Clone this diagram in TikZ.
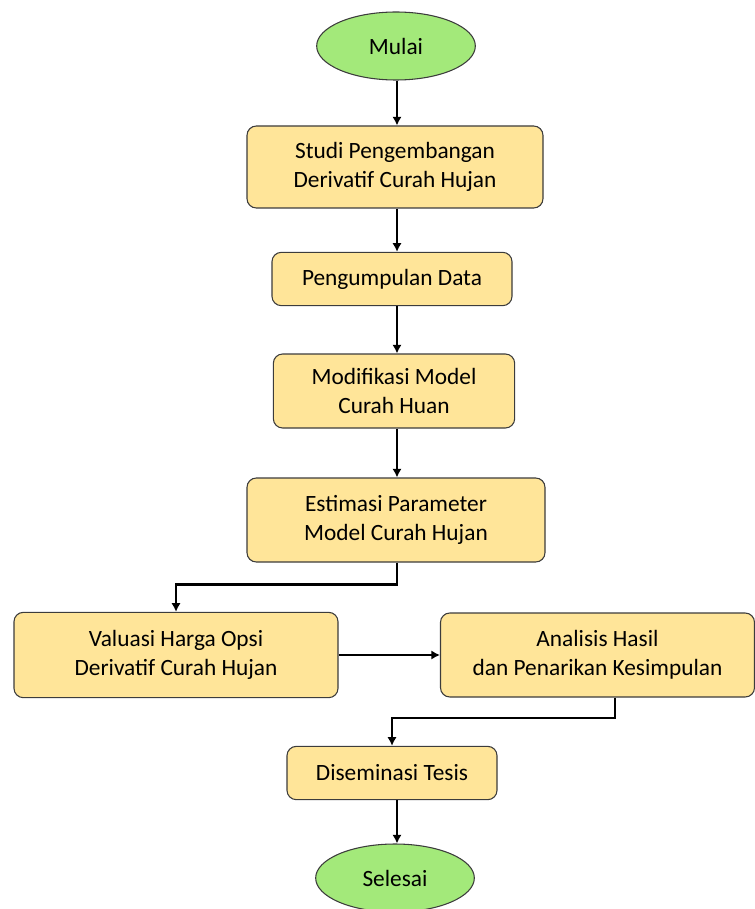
\documentclass[tikz,border=0pt]{standalone}
\usepackage{fontspec}
\setmainfont{Carlito}
\usetikzlibrary{arrows.meta}
\usetikzlibrary{shapes.geometric}

\definecolor{boxfill}{RGB}{255,229,153}
\definecolor{startfill}{RGB}{163,233,122}
\definecolor{edge}{RGB}{60,60,60}

\begin{document}
\begin{tikzpicture}[x=0.75pt, y=-0.75pt,
    proc/.style={draw=edge, line width=0.8pt, fill=boxfill, rounded corners=7pt,
        align=center, font=\fontsize{17.5}{21.5}\selectfont, inner sep=0pt},
    term/.style={draw=edge, line width=0.8pt, fill=startfill, ellipse,
        minimum width=119pt, minimum height=51pt, inner sep=0pt,
        font=\fontsize{17.5}{21.5}\selectfont},
    flow/.style={-{Latex[length=6.5pt,width=7pt]}, line width=1.7pt}]

    \useasboundingbox (0,0) rectangle (755,909);

    \node [term] (mulai) at (396, 46) {Mulai};
    \node [proc, minimum width=222pt, minimum height=61.5pt] (studi) at (395, 167)
        {Studi Pengembangan\\Derivatif Curah Hujan};
    \node [proc, minimum width=180pt, minimum height=40pt] (data) at (392, 279)
        {Pengumpulan Data};
    \node [proc, minimum width=181pt, minimum height=55.5pt] (modif) at (394, 391)
        {Modifikasi Model\\Curah Huan};
    \node [proc, minimum width=223.5pt, minimum height=63pt] (estim) at (396, 520)
        {Estimasi Parameter\\Model Curah Hujan};
    \node [proc, minimum width=243pt, minimum height=64pt] (valuasi) at (176, 655)
        {Valuasi Harga Opsi\\Derivatif Curah Hujan};
    \node [proc, minimum width=235.5pt, minimum height=63pt] (analisis) at (597.5, 655)
        {Analisis Hasil\\dan Penarikan Kesimpulan};
    \node [proc, minimum width=157.5pt, minimum height=40pt] (disem) at (392, 773)
        {Diseminasi Tesis};
    \node [term] (selesai) at (395, 878) {Selesai};

    % main line
    \coordinate (spine) at (397, 0);
    \draw [flow] (spine |- mulai.south) -- (spine |- studi.north);
    \draw [flow] (spine |- studi.south) -- (spine |- data.north);
    \draw [flow] (spine |- data.south) -- (spine |- modif.north);
    \draw [flow] (spine |- modif.south) -- (spine |- estim.north);
    \draw [flow] (spine |- estim.south) -- ++(0, 22) -| (valuasi.north);
    \draw [flow] (valuasi) -- (analisis);

    \coordinate (turn) at (615, 718);
    \draw [flow] (turn |- analisis.south) -- (turn) -| (disem.north);
    \draw [flow] (spine |- disem.south) -- (spine |- selesai.north);

\end{tikzpicture}
\end{document}
